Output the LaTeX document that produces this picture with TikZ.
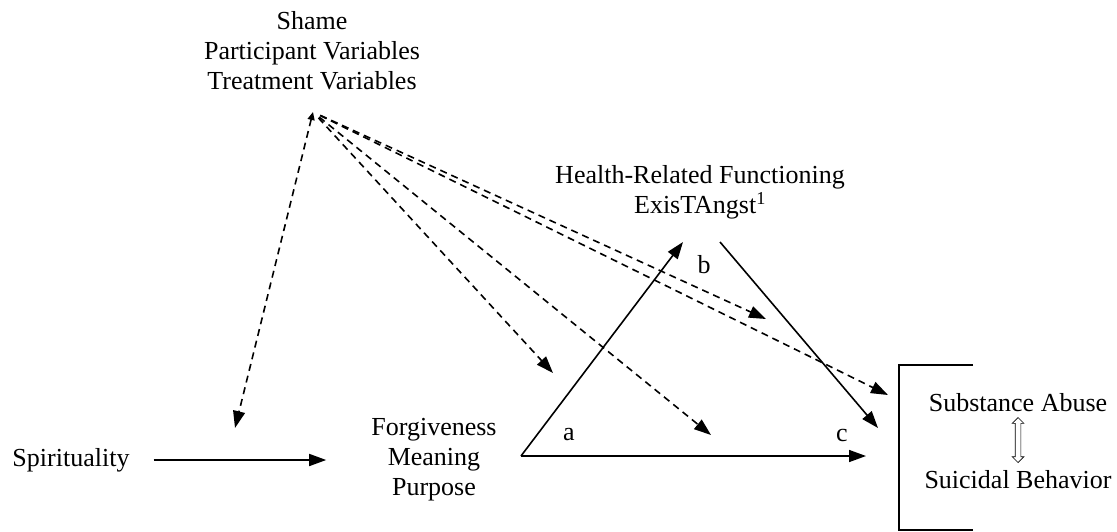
\documentclass[tikz,border=0pt]{standalone}
\usepackage{fontspec}
\setmainfont{Liberation Serif}
\usetikzlibrary{arrows.meta,shapes.arrows}
\begin{document}
\begin{tikzpicture}[x=1pt,y=-1pt,>={Triangle[length=17pt,width=12pt]}]
        \tikzstyle{construct}=[font=\fontsize{26}{30}\selectfont,align=center,inner sep=0pt]
        \tikzstyle{path label}=[font=\fontsize{26}{30}\selectfont,inner sep=0pt]
        \tikzstyle{edge}=[draw,->,line width=1.6pt]
        \tikzstyle{control}=[draw,->,line width=1.6pt,dash pattern=on 7pt off 5pt]
        \useasboundingbox (0,0) rectangle (1117,531);
       \begin{scope}
         \node [construct] (cov) at (312,51) {Shame\\Participant Variables\\Treatment Variables};
         \node [construct] (spirit) at (71,460) {Spirituality};
         \node [construct] (fmp) at (434,460) {Forgiveness\\Meaning\\Purpose};
         \node [construct] (health) at (700,192) {Health-Related Functioning\\ExisTAngst\textsuperscript{1}};
         \node [construct] (subst) at (1018,403) {Substance Abuse};
         \node [construct] (suic) at (1018,480) {Suicidal Behavior};
         \node [path label] (a) at (569,435) {a};
         \node [path label] (b) at (704,265) {b};
         \node [path label] (c) at (842,435) {c};
         % free ends
         \coordinate (hub) at (313,112);
         \coordinate (corner) at (521,456);
         \coordinate (apex) at (683,242);
         \coordinate (aend) at (866,456);
         \coordinate (bstart) at (720,242);
         \coordinate (bend) at (878,428);
         \coordinate (m1) at (235,428);
         \coordinate (m2) at (553,373);
         \coordinate (m3) at (711,435);
         \coordinate (m4) at (766,319);
         \coordinate (m5) at (888,395);
         % outcome bracket
         \draw [line width=1.6pt] (973,365) -- (899,365) -- (899,530) -- (973,530);
         \node [double arrow,draw,fill=white,line width=0.7pt,rotate=90,minimum height=45pt,
                double arrow head extend=3pt,inner sep=2.5pt] (link) at (1018,440) {};
         \path (spirit.east) edge [edge,shorten <=24pt,shorten >=45pt] (fmp.west);
         \path (corner) edge [edge] (apex);
         \path (corner) edge [edge] (aend);
         \path (bstart) edge [edge] (bend);
         \path (hub) edge [control,{Triangle[length=8pt,width=7pt]}->] (m1);
         \path (hub) edge [control,shorten <=8pt] (m2);
         \path (hub) edge [control,shorten <=8pt] (m3);
         \path (hub) edge [control,shorten <=8pt] (m4);
         \path (hub) edge [control,shorten <=8pt] (m5);
        \end{scope}
      \end{tikzpicture}
\end{document}
